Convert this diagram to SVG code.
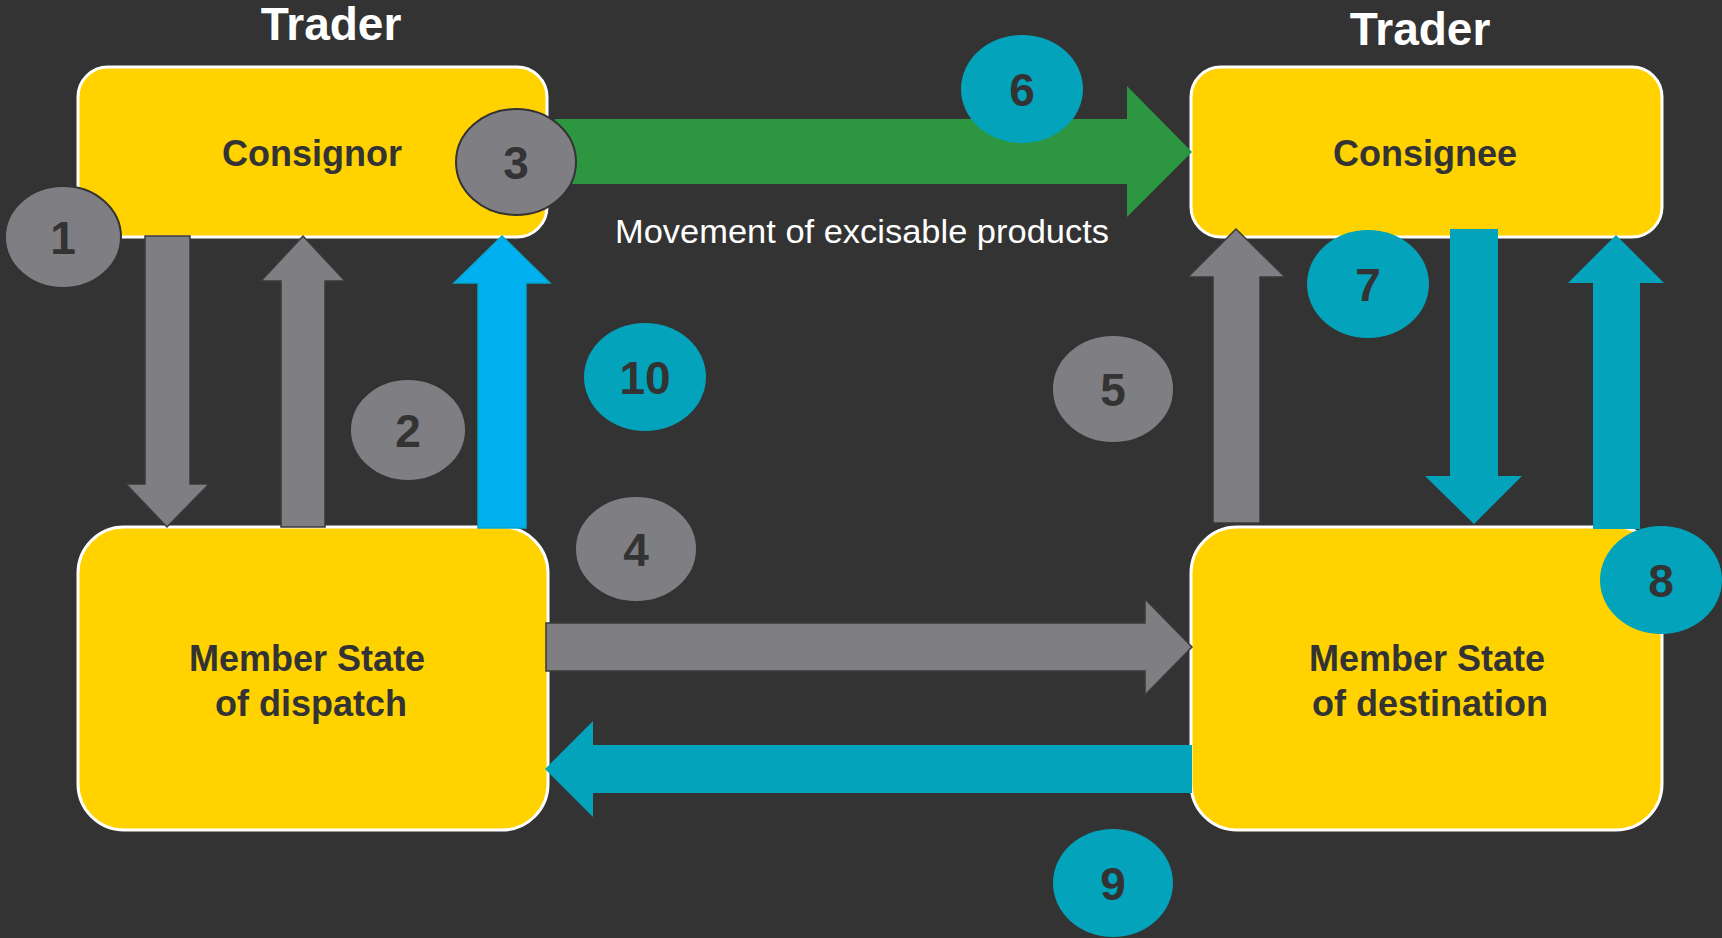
<svg xmlns="http://www.w3.org/2000/svg" width="1722" height="938" viewBox="0 0 1722 938">
<style>
.box{fill:#ffd200;stroke:#ffffff;stroke-width:3}
.lbl{font-family:"Liberation Sans",Arial,sans-serif;font-weight:bold;font-size:36px;fill:#333333;text-anchor:middle}
.hdr{font-family:"Liberation Sans",Arial,sans-serif;font-weight:bold;font-size:46px;fill:#ffffff;text-anchor:middle}
.num{font-family:"Liberation Sans",Arial,sans-serif;font-weight:bold;font-size:46px;fill:#333333;text-anchor:middle}
.g{fill:#7f7e83;stroke:#333333;stroke-width:2}
.t{fill:#02a3bb}
.ag{fill:#7f7e83;stroke:#3a3a3a;stroke-width:1.5}
.at{fill:#02a3bb}
</style>
<rect x="0" y="0" width="1722" height="938" fill="#333333"/>
<text class="hdr" x="331" y="40">Trader</text>
<text class="hdr" x="1420" y="45">Trader</text>
<g id="consignor"><rect class="box" x="78" y="67" width="469" height="170" rx="30" ry="30"/><text class="lbl" x="312" y="166">Consignor</text></g>
<g id="consignee"><rect class="box" x="1191" y="67" width="471" height="170" rx="30" ry="30"/><text class="lbl" x="1425" y="166">Consignee</text></g>
<g id="ms-dispatch"><rect class="box" x="78" y="527" width="470" height="303" rx="46" ry="46"/><text class="lbl" x="307" y="671">Member State</text><text class="lbl" x="311" y="716">of dispatch</text></g>
<g id="ms-destination"><rect class="box" x="1191" y="527" width="471" height="303" rx="46" ry="46"/><text class="lbl" x="1427" y="671">Member State</text><text class="lbl" x="1430" y="716">of destination</text></g>
<g id="connectors">
<polygon class="ag" points="145,236 190,236 190,484 209,484 167,527 126,484 145,484"/>
<polygon class="ag" points="303,236 345,281 325,281 325,527 281,527 281,281 261,281"/>
<polygon fill="#00b0f0" stroke="#06a6c8" stroke-width="1.5" points="502,236 550,283 526,283 526,528 478,528 478,283 454,283"/>
<polygon fill="#2d9640" points="555,119 1127,119 1127,86 1192,152 1127,217 1127,184 555,184"/>
<polygon class="ag" points="1236,229 1285,277 1260,277 1260,523 1213,523 1213,277 1188,277"/>
<polygon class="at" points="1450,229 1498,229 1498,476 1522,476 1474,524 1425,476 1450,476"/>
<polygon class="at" points="1616,235 1664,283 1640,283 1640,529 1593,529 1593,283 1568,283"/>
<polygon class="ag" points="546,623 1145,623 1145,599 1192,647 1145,695 1145,671 546,671"/>
<polygon class="at" points="1192,745 593,745 593,721 545,769 593,817 593,793 1192,793"/>
<text x="615" y="243" font-family="Liberation Sans,Arial,sans-serif" font-size="34" fill="#ffffff" textLength="494" lengthAdjust="spacingAndGlyphs">Movement of excisable products</text>
</g>
<g id="n1"><ellipse class="g" cx="63" cy="237" rx="58" ry="51"/><text class="num" x="63" y="254">1</text></g>
<g id="n2"><ellipse class="g" cx="408" cy="430" rx="58" ry="51"/><text class="num" x="408" y="447">2</text></g>
<g id="n3"><ellipse class="g" cx="516" cy="162" rx="60" ry="53"/><text class="num" x="516" y="179">3</text></g>
<g id="n4"><ellipse class="g" cx="636" cy="549" rx="61" ry="53"/><text class="num" x="636" y="566">4</text></g>
<g id="n5"><ellipse class="g" cx="1113" cy="389" rx="61" ry="54"/><text class="num" x="1113" y="406">5</text></g>
<g id="n6"><ellipse class="t" cx="1022" cy="89" rx="61" ry="54"/><text class="num" x="1022" y="106">6</text></g>
<g id="n7"><ellipse class="t" cx="1368" cy="284" rx="61" ry="54"/><text class="num" x="1368" y="301">7</text></g>
<g id="n8"><ellipse class="t" cx="1661" cy="580" rx="61" ry="54"/><text class="num" x="1661" y="597">8</text></g>
<g id="n9"><ellipse class="t" cx="1113" cy="883" rx="60" ry="54"/><text class="num" x="1113" y="900">9</text></g>
<g id="n10"><ellipse class="t" cx="645" cy="377" rx="61" ry="54"/><text class="num" x="645" y="394">10</text></g>
</svg>
